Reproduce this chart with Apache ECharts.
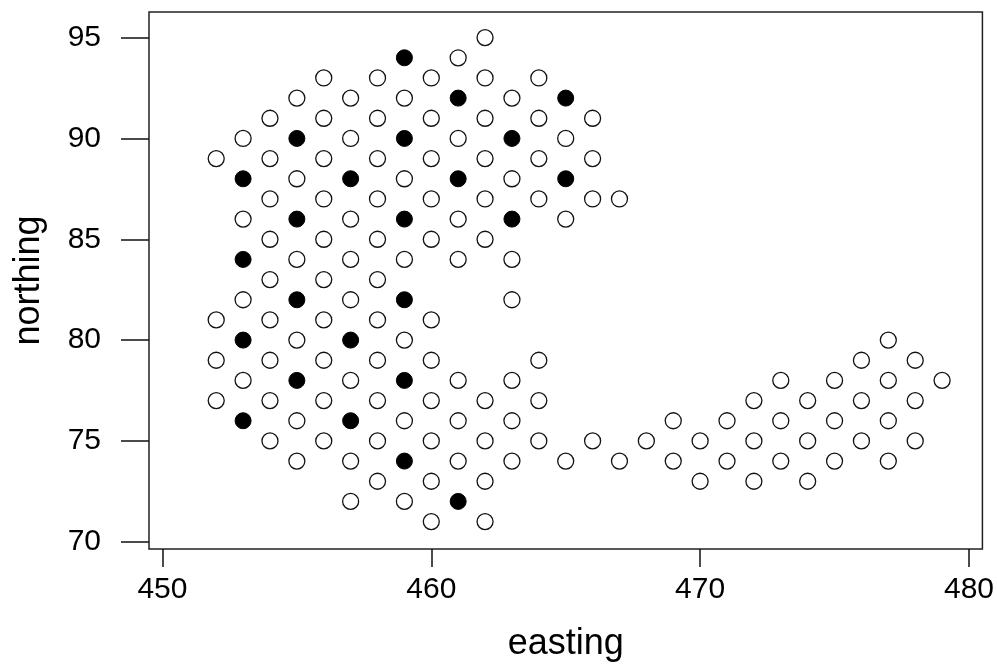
<!DOCTYPE html>
<html>
<head>
<meta charset="utf-8">
<script src="https://cdn.jsdelivr.net/npm/echarts@6/dist/echarts.min.js"></script>
<style>
html,body{margin:0;padding:0;background:#fff;}
#chart{width:997px;height:667px;}
</style>
</head>
<body>
<div id="chart"></div>
<script>
// Sites with open symbols: [easting, northing]
var openSites = [
  [462,95],
  [461,94],
  [456,93],[458,93],[460,93],[462,93],[464,93],
  [455,92],[457,92],[459,92],[463,92],
  [454,91],[456,91],[458,91],[460,91],[462,91],[464,91],[466,91],
  [453,90],[457,90],[461,90],[465,90],
  [452,89],[454,89],[456,89],[458,89],[460,89],[462,89],[464,89],[466,89],
  [455,88],[459,88],[463,88],
  [454,87],[456,87],[458,87],[460,87],[462,87],[464,87],[466,87],[467,87],
  [453,86],[457,86],[461,86],[465,86],
  [454,85],[456,85],[458,85],[460,85],[462,85],
  [455,84],[457,84],[459,84],[461,84],[463,84],
  [454,83],[456,83],[458,83],
  [453,82],[457,82],[463,82],
  [452,81],[454,81],[456,81],[458,81],[460,81],
  [455,80],[459,80],[477,80],
  [452,79],[454,79],[456,79],[458,79],[460,79],[464,79],[476,79],[478,79],
  [453,78],[457,78],[461,78],[463,78],[473,78],[475,78],[477,78],[479,78],
  [452,77],[454,77],[456,77],[458,77],[460,77],[462,77],[464,77],[472,77],[474,77],[476,77],[478,77],
  [455,76],[459,76],[461,76],[463,76],[469,76],[471,76],[473,76],[475,76],[477,76],
  [454,75],[456,75],[458,75],[460,75],[462,75],[464,75],[466,75],[468,75],[470,75],[472,75],[474,75],[476,75],[478,75],
  [455,74],[457,74],[461,74],[463,74],[465,74],[467,74],[469,74],[471,74],[473,74],[475,74],[477,74],
  [458,73],[460,73],[462,73],[470,73],[472,73],[474,73],
  [457,72],[459,72],
  [460,71],[462,71]
];
// Sites with filled symbols: [easting, northing]
var filledSites = [
  [459,94],
  [461,92],[465,92],
  [455,90],[459,90],[463,90],
  [453,88],[457,88],[461,88],[465,88],
  [455,86],[459,86],[463,86],
  [453,84],
  [455,82],[459,82],
  [453,80],[457,80],
  [455,78],[459,78],
  [453,76],[457,76],
  [459,74],
  [461,72]
];
var xTicks = [450, 460, 470, 480];
var yTicks = [70, 75, 80, 85, 90, 95];
var xTitle = 'easting';
var yTitle = 'northing';

var chart = echarts.init(document.getElementById('chart'), null, {renderer: 'canvas'});
var font = '"Liberation Sans", Arial, Helvetica, sans-serif';
chart.setOption({
  animation: false,
  backgroundColor: '#ffffff',
  grid: {
    left: 149, top: 12, width: 835, height: 538,
    show: true, borderColor: '#222', borderWidth: 1.5, backgroundColor: 'transparent'
  },
  xAxis: {
    type: 'value', min: 449.5, max: 480.5,
    name: xTitle, nameLocation: 'middle', nameGap: 77,
    nameTextStyle: {fontFamily: font, fontSize: 36, color: '#000'},
    axisLine: {show: false},
    splitLine: {show: false},
    axisTick: {show: true, inside: false, length: 18, customValues: xTicks, lineStyle: {color: '#111', width: 1.5}},
    axisLabel: {show: true, margin: 26, customValues: xTicks, fontFamily: font, fontSize: 30, color: '#000'}
  },
  yAxis: {
    type: 'value', min: 69.64, max: 96.27,
    name: yTitle, nameLocation: 'middle', nameGap: 102,
    nameTextStyle: {fontFamily: font, fontSize: 36, color: '#000'},
    axisLine: {show: false},
    splitLine: {show: false},
    axisTick: {show: true, inside: false, length: 28, customValues: yTicks, lineStyle: {color: '#111', width: 1.5}},
    axisLabel: {show: true, margin: 48, customValues: yTicks, fontFamily: font, fontSize: 30, color: '#000'}
  },
  series: [
    {
      type: 'scatter', data: openSites, symbol: 'circle', symbolSize: 16,
      itemStyle: {color: '#ffffff', borderColor: '#111', borderWidth: 1.3, opacity: 1}
    },
    {
      type: 'scatter', data: filledSites, symbol: 'circle', symbolSize: 16,
      itemStyle: {color: '#000000', borderColor: '#000', borderWidth: 1, opacity: 1}
    }
  ]
});
</script>
</body>
</html>
